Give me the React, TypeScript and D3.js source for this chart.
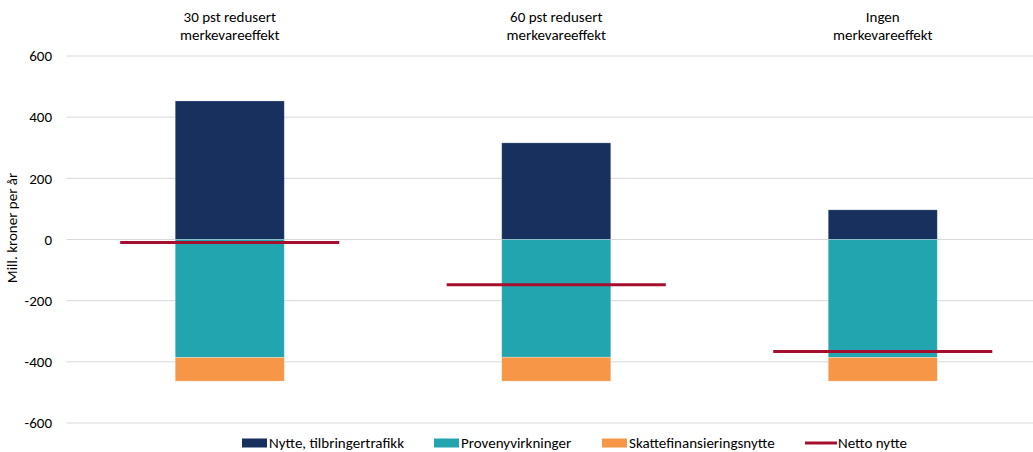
import React from "react";
import * as d3 from "d3";

const categories = ["30 pst redusert\nmerkevareeffekt", "60 pst redusert\nmerkevareeffekt", "Ingen\nmerkevareeffekt"];
const nytte = [453, 316, 97];
const proveny = [-386, -385, -386];
const skatte = [-77, -78, -77];
const netto = [-10, -148, -366];
const yTicks = [600, 400, 200, 0, -200, -400, -600];

const seriesNames = ["Nytte, tilbringertrafikk", "Provenyvirkninger", "Skattefinansieringsnytte", "Netto nytte"];
const colors = ["#17305D", "#22A5AF", "#F79646", "#A50F2D"];

const W = 1033;
const H = 452;
const FONT = "Carlito, Calibri, Lato, 'Open Sans', sans-serif";
const FS = 15;

export default function App() {
  const x = d3.scaleBand<string>().domain(categories).range([66.5, 1046]).padding(0);
  const y = d3.scaleLinear().domain([-600, 600]).range([423, 56]);
  const bw = x.bandwidth();
  const barW = bw * 0.334;
  const lineW = bw * 0.671;

  const stacks = categories.map((c, i) => {
    const cx = (x(c) ?? 0) + bw / 2;
    const segs = [
      { y0: 0, y1: nytte[i], color: colors[0] },
      { y0: 0, y1: proveny[i], color: colors[1] },
      { y0: proveny[i], y1: proveny[i] + skatte[i], color: colors[2] },
    ];
    return { c, cx, segs, net: netto[i] };
  });

  const legendItems = [
    { x: 242, label: seriesNames[0], color: colors[0], type: "rect" },
    { x: 434, label: seriesNames[1], color: colors[1], type: "rect" },
    { x: 602, label: seriesNames[2], color: colors[2], type: "rect" },
    { x: 805, label: seriesNames[3], color: colors[3], type: "line" },
  ];

  const LY = 443;

  return (
    <svg
      width={W}
      height={H}
      style={{ position: "absolute", left: 0, top: 0, background: "#fff" }}
      fontFamily={FONT}
    >
      <rect width={W} height={H} fill="#fff" />
      {yTicks.map((t) => (
        <g key={t}>
          <line x1={66.5} x2={1046} y1={y(t)} y2={y(t)} stroke="#D9D9D9" strokeWidth={1} />
          <text x={52} y={y(t)} dy="0.35em" textAnchor="end" fontSize={FS} fill="#000">
            {t}
          </text>
        </g>
      ))}
      <text
        transform={`translate(17,${228}) rotate(-90)`}
        textAnchor="middle"
        fontSize={FS}
        fill="#000"
      >
        Mill. kroner per år
      </text>
      {stacks.map((s) => (
        <g key={s.c}>
          {s.segs.map((seg, j) => (
            <rect
              key={j}
              x={s.cx - barW / 2}
              width={barW}
              y={y(Math.max(seg.y0, seg.y1))}
              height={Math.abs(y(seg.y0) - y(seg.y1))}
              fill={seg.color}
              stroke="rgba(255,255,255,0.35)"
              strokeWidth={0.75}
            />
          ))}
        </g>
      ))}
      {stacks.map((s) => (
        <line
          key={"n" + s.c}
          x1={s.cx - lineW / 2}
          x2={s.cx + lineW / 2}
          y1={y(s.net)}
          y2={y(s.net)}
          stroke={colors[3]}
          strokeWidth={3}
        />
      ))}
      {categories.map((c) => {
        const cx = (x(c) ?? 0) + bw / 2;
        return (
          <text key={"t" + c} x={cx} y={22} textAnchor="middle" fontSize={FS} fill="#000">
            {c.split("\n").map((ln, k) => (
              <tspan key={k} x={cx} dy={k === 0 ? 0 : 18}>
                {ln}
              </tspan>
            ))}
          </text>
        );
      })}
      {legendItems.map((it) => (
        <g key={it.label}>
          {it.type === "rect" ? (
            <rect x={it.x} y={LY - 4.5} width={25} height={9} fill={it.color} />
          ) : (
            <line x1={it.x} x2={it.x + 32} y1={LY} y2={LY} stroke={it.color} strokeWidth={3} />
          )}
          <text
            x={it.type === "rect" ? it.x + 27 : it.x + 33}
            y={LY}
            dy="0.33em"
            fontSize={FS}
            fill="#000"
          >
            {it.label}
          </text>
        </g>
      ))}
    </svg>
  );
}
